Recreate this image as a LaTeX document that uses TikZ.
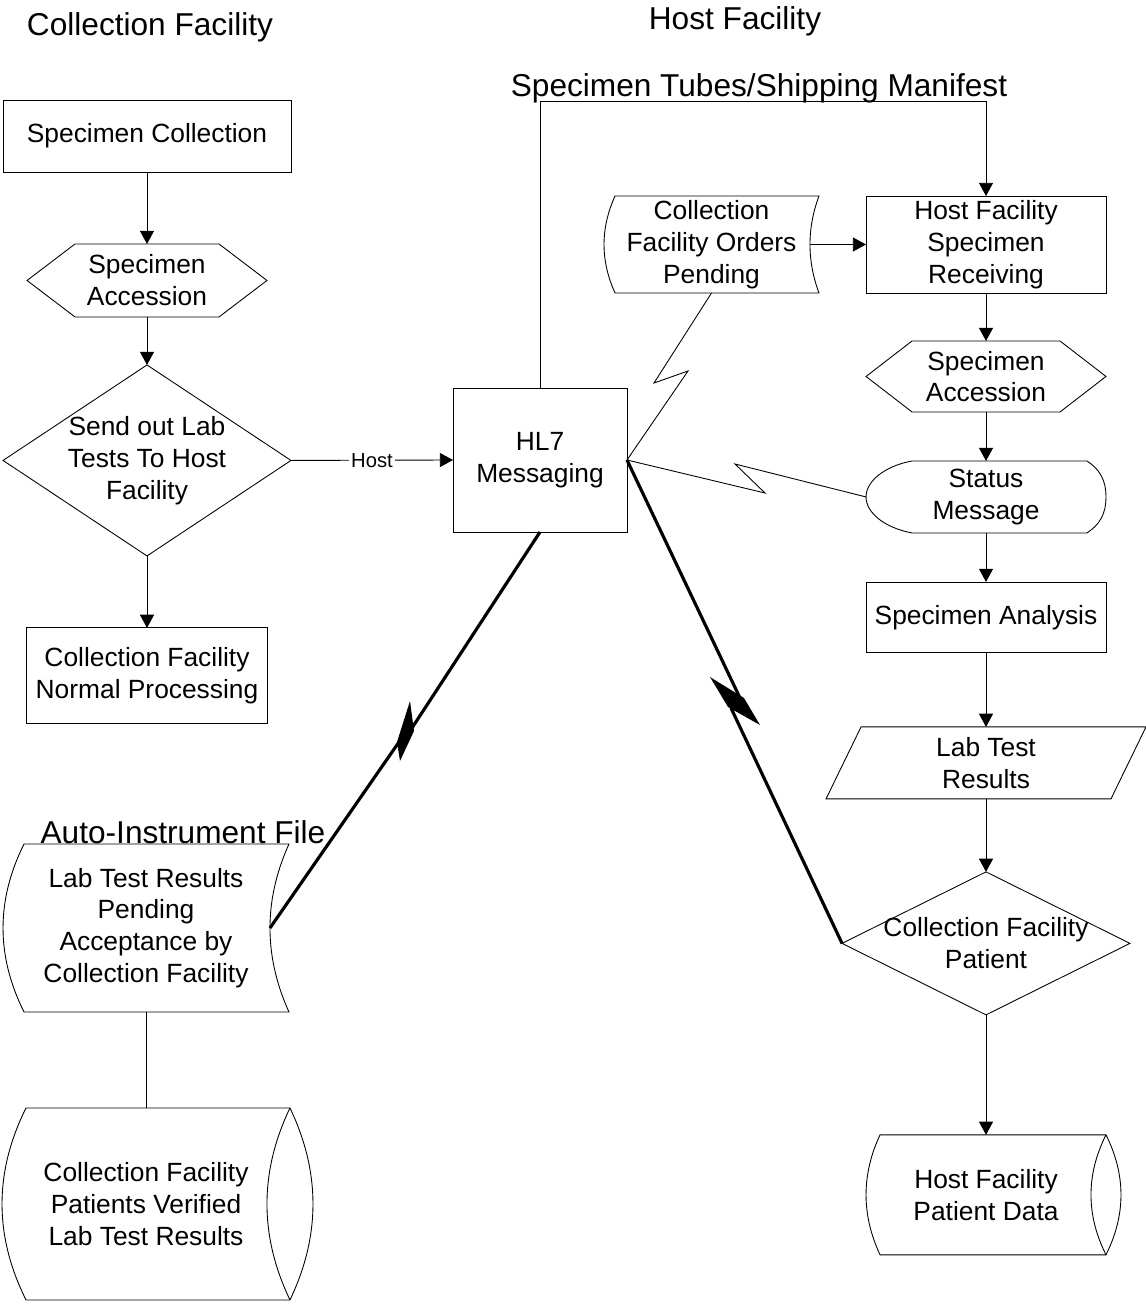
\documentclass[tikz,border=0pt]{standalone}
\usepackage{fontspec}
\setmainfont{Liberation Sans}
\usetikzlibrary{positioning,calc,arrows.meta}

\newcommand{\boxfont}{\fontsize{15}{18.1}\selectfont}
\newcommand{\headfont}{\fontsize{18}{21.6}\selectfont}

\begin{document}
\begin{tikzpicture}[x=0.02cm, y=-0.02cm, line width=0.5pt, >={Triangle[length=7.5pt, width=8pt]}]
\tikzset{
    block/.style={rectangle, inner sep=0pt, outer sep=0pt, align=center, font=\boxfont},
    proc/.style={block, draw=black},
    hexa/.style={block, append after command={\pgfextra{
        \draw ($(\tikzlastnode.north west)+(#1,0)$) -- ($(\tikzlastnode.north east)+(-#1,0)$)
            -- (\tikzlastnode.east) -- ($(\tikzlastnode.south east)+(-#1,0)$)
            -- ($(\tikzlastnode.south west)+(#1,0)$) -- (\tikzlastnode.west) -- cycle;}}},
    decision/.style={block, append after command={\pgfextra{
        \draw (\tikzlastnode.north) -- (\tikzlastnode.east) -- (\tikzlastnode.south) -- (\tikzlastnode.west) -- cycle;}}},
    slanted/.style={block, append after command={\pgfextra{
        \draw ($(\tikzlastnode.north west)+(#1,0)$) -- (\tikzlastnode.north east)
            -- ($(\tikzlastnode.south east)+(-#1,0)$) -- (\tikzlastnode.south west) -- cycle;}}},
    stored/.style n args={3}{block, append after command={\pgfextra{
        \draw ($(\tikzlastnode.north west)+(#1,0)$) -- (\tikzlastnode.north east)
            .. controls +({-4*#2/3},{#3/3}) and +({-4*#2/3},{-#3/3}) .. (\tikzlastnode.south east)
            -- ($(\tikzlastnode.south west)+(#1,0)$)
            .. controls +({-4*#1/3},{-#3/3}) and +({-4*#1/3},{#3/3}) .. ($(\tikzlastnode.north west)+(#1,0)$) -- cycle;}}},
    drum/.style n args={3}{block, append after command={\pgfextra{
        \draw ($(\tikzlastnode.north west)+(#1,0)$) -- (\tikzlastnode.north east)
            .. controls +({4*#2/3},{#3/3}) and +({4*#2/3},{-#3/3}) .. (\tikzlastnode.south east)
            -- ($(\tikzlastnode.south west)+(#1,0)$)
            .. controls +({-4*#1/3},{-#3/3}) and +({-4*#1/3},{#3/3}) .. ($(\tikzlastnode.north west)+(#1,0)$) -- cycle;
        \draw (\tikzlastnode.north east)
            .. controls +({-4*#2/3},{#3/3}) and +({-4*#2/3},{-#3/3}) .. (\tikzlastnode.south east);}}},
    display/.style={block, append after command={\pgfextra{
        \draw ($(\tikzlastnode.north west)+(46,0)$) -- ($(\tikzlastnode.north east)+(-19,0)$)
            .. controls +(12,8) and +(0,-18) .. (\tikzlastnode.east)
            .. controls +(0,18) and +(12,-8) .. ($(\tikzlastnode.south east)+(-19,0)$)
            -- ($(\tikzlastnode.south west)+(46,0)$)
            .. controls +(-27,-5) and +(0,16) .. (\tikzlastnode.west)
            .. controls +(0,-16) and +(-27,5) .. ($(\tikzlastnode.north west)+(46,0)$) -- cycle;}}},
    heading/.style={font=\headfont, inner sep=0pt, anchor=base},
    tag/.style={fill=white, inner sep=1pt, font=\fontsize{11.5}{13}\selectfont},
    bolt/.style={line width=1.8pt}
}
\useasboundingbox (0,0) rectangle (1146,1305);

% headings
\node[heading] (colltitle) at (150,35) {Collection Facility};
\node[heading] (hosttitle) at (735,29) {Host Facility};
\node[heading] (shiptitle) at (759,96) {Specimen Tubes/Shipping Manifest};
\node[heading] (autotitle) at (183,843) {Auto-Instrument File};

% collection facility
\node[proc, minimum width=5.76cm, minimum height=1.44cm] (coll) at (147,136) {Specimen Collection};
\node[hexa=48, minimum width=4.8cm, minimum height=1.46cm, below=1.44cm of coll] (acc1) {Specimen\\Accession};
\node[decision, minimum width=5.76cm, minimum height=3.82cm, below=0.96cm of acc1] (sendout) {Send out Lab\\Tests To Host\\Facility};
\node[proc, minimum width=4.82cm, minimum height=1.92cm, below=1.44cm of sendout] (normal) {Collection Facility\\Normal Processing};
\node[stored={21}{19}{168}, minimum width=5.72cm, minimum height=3.36cm] (pendres) at (146,928) {Lab Test Results\\Pending\\Acceptance by\\Collection Facility};
\node[drum={24}{23}{192}, minimum width=5.76cm, minimum height=3.84cm, below=1.92cm of pendres] (verified) {Collection Facility\\Patients Verified\\Lab Test Results};

% messaging
\node[proc, minimum width=3.48cm, minimum height=2.88cm] (hl7) at (540,460) {HL7\\Messaging};
\node[stored={11}{9}{97}, minimum width=4.3cm, minimum height=1.94cm] (pend) at (711.5,244.5) {Collection\\Facility Orders\\Pending};

% host facility
\node[proc, minimum width=4.8cm, minimum height=1.94cm] (recv) at (986,244.5) {Host Facility\\Specimen\\Receiving};
\node[hexa=46, minimum width=4.8cm, minimum height=1.42cm, below=0.96cm of recv] (acc2) {Specimen\\Accession};
\node[display, minimum width=4.8cm, minimum height=1.44cm, below=0.98cm of acc2] (status) {Status\\Message};
\node[proc, minimum width=4.8cm, minimum height=1.42cm, below=0.98cm of status] (analysis) {Specimen Analysis};
\node[slanted=35, minimum width=6.4cm, minimum height=1.44cm, below=1.48cm of analysis] (labres) {Lab Test\\Results};
\node[decision, minimum width=5.76cm, minimum height=2.86cm, below=1.46cm of labres] (patient) {Collection Facility\\Patient};
\node[drum={14}{15}{120}, minimum width=4.8cm, minimum height=2.4cm, below=2.4cm of patient] (hostdata) {Host Facility\\Patient Data};

\coordinate (ship) at (540,101);

% arrows
\draw[->] (coll.south) -- (acc1.north);
\draw[->] (acc1.south) -- (sendout.north);
\draw[->] (sendout.south) -- (normal.north);
\draw[->] (sendout.east) -- node[tag] (hostlabel) {Host} (hl7.west);
\draw[->] (hl7.north) -- (ship) -| (recv.north);
\draw[->] ($(pend.east)+(-9,0)$) -- (recv.west);
\draw[->] (recv.south) -- (acc2.north);
\draw[->] (acc2.south) -- (status.north);
\draw[->] (status.south) -- (analysis.north);
\draw[->] (analysis.south) -- (labres.north);
\draw[->] (labres.south) -- (patient.north);
\draw[->] (patient.south) -- (hostdata.north);
\draw (pendres.south) -- (verified.north);

% links
\draw (hl7.east) -- (688,371) -- (654,383) -- (pend.south);
\draw (hl7.east) -- (765,493) -- (735,464) -- (status.west);
\draw[bolt] (hl7.south) -- (410,731);
\fill (410,701) -- (414,731) -- (400,761) -- (397,742) -- cycle;
\draw[bolt] (399,742) -- ($(pendres.east)+(-19,0)$);
\draw[bolt] (hl7.east) -- (740,698);
\fill (710,677) -- (744,698) -- (760,725) -- (728,707) -- cycle;
\draw[bolt] (731,708) -- (patient.west);

\end{tikzpicture}
\end{document}
